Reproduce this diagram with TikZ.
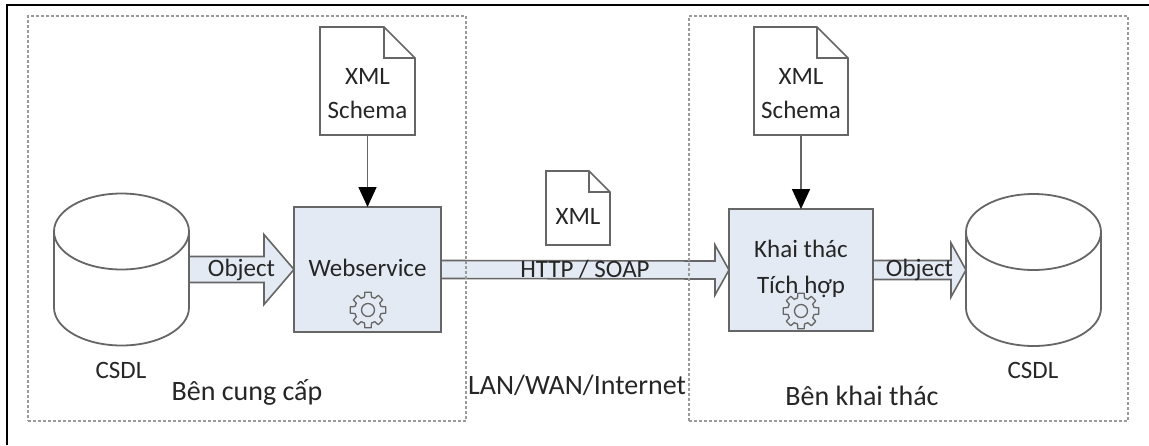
\documentclass[tikz,border=0pt]{standalone}
\usepackage{fontspec}
\setmainfont{Carlito}
\usepackage{tikz}
\usetikzlibrary{positioning,calc,arrows.meta}

\definecolor{linegray}{HTML}{666666}
\definecolor{boxblue}{HTML}{E4EAF4}
\definecolor{dashgray}{HTML}{9A9A9A}
\definecolor{inkgray}{HTML}{262626}

\tikzset{
lbl/.style={text=inkgray, font=\fontsize{25}{34}\selectfont, align=center, inner sep=0pt, outer sep=0pt},
biglbl/.style={lbl, font=\fontsize{28}{34}\selectfont},
service/.style={draw=linegray, line width=1.8pt, fill=boxblue, inner sep=0pt, outer sep=0pt},
sheetbox/.style={inner sep=0pt, outer sep=0pt},
zone/.style={draw=dashgray, line width=1.2pt, dash pattern=on 3pt off 2pt, inner sep=0pt, outer sep=0pt, minimum height=405pt},
blockline/.style={draw=linegray, line width=1.6pt, fill=boxblue, line join=miter},
feed/.style={draw=linegray, line width=1.6pt, -{Triangle[length=20pt,width=18pt,fill=black,black]}},
gearline/.style={draw=linegray, line width=1.3pt},
gearicon/.pic={
\draw[gearline] (0,0) circle (6.5);
\draw[gearline, line join=round] (-15:13.5) \foreach \a in {0,45,...,315} { -- ({\a-15}:13.5) -- ({\a-10}:18) -- ({\a+10}:18) -- ({\a+15}:13.5) } -- cycle;
}
}

\newcommand{\sheetoutline}[2]{\draw[draw=linegray, line width=1.6pt, fill=white] (#1.south west) -- (#1.north west) -- ([xshift=-#2]#1.north east) -- ([yshift=-#2]#1.north east) -- (#1.south east) -- cycle; \draw[draw=linegray, line width=1.6pt] ([xshift=-#2]#1.north east) -- ([xshift=-#2,yshift=-#2]#1.north east) -- ([yshift=-#2]#1.north east);}
\newcommand{\drumoutline}[1]{\draw[draw=linegray, line width=1.8pt, fill=white] ([yshift=-38pt]#1.north west) arc (180:0:67.5pt and 38pt) -- ([yshift=38pt]#1.south east) arc (0:-180:67.5pt and 38pt) -- cycle; \draw[draw=linegray, line width=1.8pt] ([yshift=-38pt]#1.north west) arc (180:360:67.5pt and 38pt);}
\newcommand{\blockarrow}[7]{\draw[blockline] ([yshift=#3]#1) -- ([xshift=-#5,yshift=#3]#2) -- ([xshift=-#5,yshift=#4]#2) -- (#2) -- ([xshift=-#5,yshift=-#4]#2) -- ([xshift=-#5,yshift=-#3]#2) -- ([yshift=-#3]#1) -- cycle;
\node[lbl] (#6) at ($(#1)!0.5!(#2)$) {#7};}

\begin{document}
\begin{tikzpicture}[x=1pt,y=-1pt]
\useasboundingbox (0,0) rectangle (1149,445);
\fill[white] (0,0) rectangle (1149,445);

\coordinate (framebl) at (7,445); \coordinate (frametl) at (7,5); \coordinate (frametr) at (1149,5);
\draw[black, line width=2.4pt] (framebl) -- (frametl) -- (frametr);

\node[service, minimum width=147pt, minimum height=125pt] (webservice) at (367.5,269.5) {};
\node[service, minimum width=144pt, minimum height=122pt] (khaithac) at (801,270) {};
\node[sheetbox, minimum width=95pt, minimum height=108pt, above = 72pt of webservice] (schema1) {};
\node[sheetbox, minimum width=94pt, minimum height=108pt, above = 74pt of khaithac] (schema2) {};
\node[sheetbox, minimum width=64pt, minimum height=74pt] (xmlmsg) at (578,208) {};
\node[sheetbox, minimum width=135pt, minimum height=152pt, left = 105pt of webservice] (csdl1) {};
\node[sheetbox, minimum width=135pt, minimum height=152pt, right = 93pt of khaithac] (csdl2) {};

\sheetoutline{schema1}{31pt}
\sheetoutline{schema2}{31pt}
\sheetoutline{xmlmsg}{21pt}
\drumoutline{csdl1}
\drumoutline{csdl2}

\node[lbl] (schema1txt) at ($(schema1.center)+(0,13)$) {XML\\Schema};
\node[lbl] (schema2txt) at ($(schema2.center)+(0,13)$) {XML\\Schema};
\node[lbl] (xmlmsgtxt) at (578,216) {XML};

\draw[feed] (schema1) -- (webservice);
\draw[feed] (schema2) -- (khaithac);

\blockarrow{csdl1.east}{webservice.west}{13pt}{35pt}{30pt}{object1}{Object}
\blockarrow{webservice.east}{khaithac.west}{9pt}{25pt}{14pt}{http}{HTTP / SOAP}
\blockarrow{khaithac.east}{csdl2.west}{9.5pt}{27pt}{15pt}{object2}{Object}

\pic (gear1) at (368,310) {gearicon};
\pic (gear2) at (801,311) {gearicon};
\node[lbl] (webservicetxt) at (367.5,268) {Webservice};
\node[lbl, font=\fontsize{25}{36}\selectfont] (khaithactxt) at (801,269) {Khai thác\\Tích hợp};

\node[lbl] (csdl1txt) at (121,370) {CSDL};
\node[lbl] (csdl2txt) at (1033,370) {CSDL};
\node[biglbl] (provider) at (247,392) {Bên cung cấp};
\node[biglbl] (consumer) at (862,396) {Bên khai thác};
\node[biglbl] (network) at (577,385) {LAN/WAN/Internet};

\node[zone, minimum width=438pt] (zoneleft) at (247,218.5) {};
\node[zone, minimum width=439pt] (zoneright) at (908.5,218.5) {};

\end{tikzpicture}
\end{document}
